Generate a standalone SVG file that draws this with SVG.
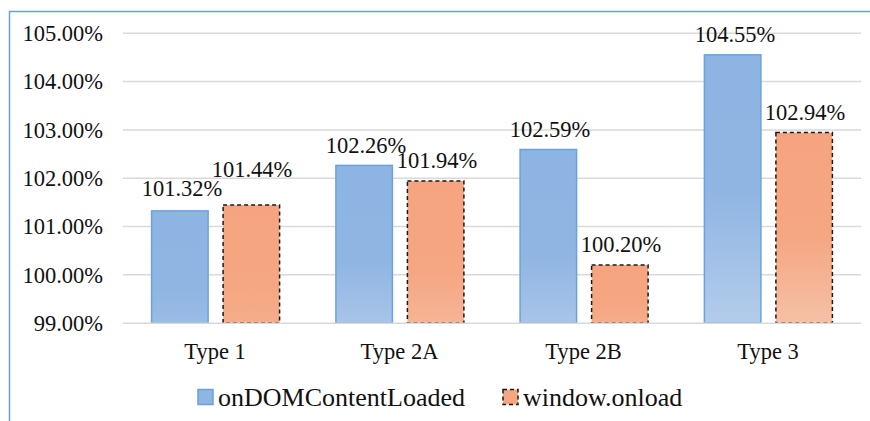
<svg xmlns="http://www.w3.org/2000/svg" width="870" height="421" viewBox="0 0 870 421">
  <defs>
    <!-- bar fills: solid top, lightening towards the base (stronger on taller bars) -->
    <linearGradient id="blueStrong" x1="0" y1="0" x2="0" y2="1">
      <stop offset="0" stop-color="#8db4e2"/>
      <stop offset="0.5" stop-color="#8fb5e3"/>
      <stop offset="1" stop-color="#b3ccea"/>
    </linearGradient>
    <linearGradient id="blueMid" x1="0" y1="0" x2="0" y2="1">
      <stop offset="0" stop-color="#8db4e2"/>
      <stop offset="0.6" stop-color="#8fb5e3"/>
      <stop offset="1" stop-color="#a8c4e8"/>
    </linearGradient>
    <linearGradient id="blueWeak" x1="0" y1="0" x2="0" y2="1">
      <stop offset="0" stop-color="#8db4e2"/>
      <stop offset="0.7" stop-color="#8fb5e3"/>
      <stop offset="1" stop-color="#9bbce5"/>
    </linearGradient>
    <linearGradient id="orangeStrong" x1="0" y1="0" x2="0" y2="1">
      <stop offset="0" stop-color="#f5a47f"/>
      <stop offset="0.55" stop-color="#f5a782"/>
      <stop offset="1" stop-color="#f6c0a6"/>
    </linearGradient>
    <linearGradient id="orangeMid" x1="0" y1="0" x2="0" y2="1">
      <stop offset="0" stop-color="#f5a47f"/>
      <stop offset="0.65" stop-color="#f5a782"/>
      <stop offset="1" stop-color="#f5b597"/>
    </linearGradient>
    <linearGradient id="orangeWeak" x1="0" y1="0" x2="0" y2="1">
      <stop offset="0" stop-color="#f5a47f"/>
      <stop offset="0.7" stop-color="#f5a782"/>
      <stop offset="1" stop-color="#f5ad8b"/>
    </linearGradient>
    <style>
      .frame { stroke: #6b9fd9; stroke-width: 1.5; fill: none; }
      .grid { stroke: #d9d9d9; stroke-width: 1.5; }
      .txt { font-size: 22.5px; fill: #111; }
      .axis { text-anchor: end; }
      .mid { text-anchor: middle; }
      .legend { font-size: 26px; }
      .barA { stroke: #6aa3db; stroke-width: 1.5; }
      .barB { stroke: #1a1a1a; stroke-width: 1.5; stroke-dasharray: 4 3; }
    </style>
  </defs>

  <rect width="870" height="421" fill="#ffffff"/>

  <!-- chart frame (left and top edges) -->
  <path class="frame" d="M9.5,421 V11.5 H870"/>

  <!-- horizontal gridlines -->
  <g id="gridlines">
    <line class="grid" x1="123" y1="33.3" x2="861" y2="33.3"/>
    <line class="grid" x1="123" y1="81.6" x2="861" y2="81.6"/>
    <line class="grid" x1="123" y1="129.9" x2="861" y2="129.9"/>
    <line class="grid" x1="123" y1="178.2" x2="861" y2="178.2"/>
    <line class="grid" x1="123" y1="226.5" x2="861" y2="226.5"/>
    <line class="grid" x1="123" y1="274.8" x2="861" y2="274.8"/>
  </g>

  <g font-family="'Liberation Serif', 'Times New Roman', 'DejaVu Serif', serif">
    <!-- value axis labels -->
    <g id="y-axis" class="txt axis">
      <text x="103" y="41">105.00%</text>
      <text x="103" y="89.3">104.00%</text>
      <text x="103" y="137.6">103.00%</text>
      <text x="103" y="185.9">102.00%</text>
      <text x="103" y="234.2">101.00%</text>
      <text x="103" y="282.5">100.00%</text>
      <text x="103" y="330.8">99.00%</text>
    </g>

    <!-- bars -->
    <g id="type1">
      <rect class="barA" fill="url(#blueWeak)" x="151.6" y="210.9" width="56.5" height="112.1"/>
      <rect class="barB" fill="url(#orangeWeak)" x="223.1" y="205.1" width="56.5" height="117.9"/>
      <text class="txt mid" x="182" y="196">101.32%</text>
      <text class="txt mid" x="252" y="177">101.44%</text>
      <text class="txt mid" x="215" y="359">Type 1</text>
    </g>
    <g id="type2a">
      <rect class="barA" fill="url(#blueMid)" x="335.9" y="165.4" width="56.5" height="157.6"/>
      <rect class="barB" fill="url(#orangeMid)" x="407.4" y="180.9" width="56.5" height="142.1"/>
      <text class="txt mid" x="366" y="153">102.26%</text>
      <text class="txt mid" x="437" y="168">101.94%</text>
      <text class="txt mid" x="399.5" y="359">Type 2A</text>
    </g>
    <g id="type2b">
      <rect class="barA" fill="url(#blueMid)" x="520.1" y="149.5" width="56.5" height="173.5"/>
      <rect class="barB" fill="url(#orangeWeak)" x="591.6" y="265" width="56.5" height="58"/>
      <text class="txt mid" x="550" y="137">102.59%</text>
      <text class="txt mid" x="621" y="252">100.20%</text>
      <text class="txt mid" x="583.6" y="359">Type 2B</text>
    </g>
    <g id="type3">
      <rect class="barA" fill="url(#blueStrong)" x="704.4" y="54.8" width="56.5" height="268.2"/>
      <rect class="barB" fill="url(#orangeStrong)" x="775.9" y="132.6" width="56.5" height="190.4"/>
      <text class="txt mid" x="735" y="42">104.55%</text>
      <text class="txt mid" x="805" y="120">102.94%</text>
      <text class="txt mid" x="768" y="359">Type 3</text>
    </g>

    <!-- legend -->
    <g id="legend">
      <rect class="barA" fill="#8fb5e3" x="198" y="389.5" width="15" height="15"/>
      <text class="txt legend" x="218" y="406">onDOMContentLoaded</text>
      <rect class="barB" fill="#f5a782" x="503" y="389.5" width="15" height="15"/>
      <text class="txt legend" x="523" y="406">window.onload</text>
    </g>
  </g>

  <!-- category axis baseline -->
  <line class="grid" x1="123" y1="323.2" x2="861" y2="323.2"/>
</svg>
